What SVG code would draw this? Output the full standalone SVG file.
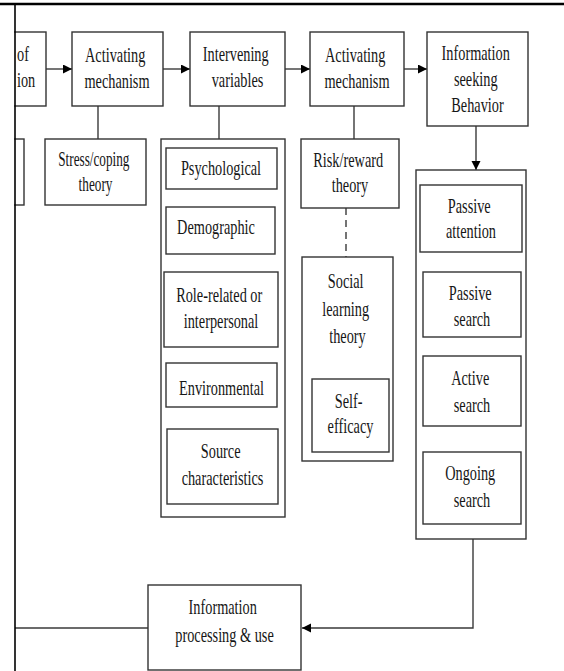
<svg xmlns="http://www.w3.org/2000/svg" width="564" height="671" viewBox="0 0 564 671">
  <style>
    .box { fill: #fff; stroke: #333; stroke-width: 1.4; }
    .wire { fill: none; stroke: #3a3a3a; stroke-width: 1.4; }
    .dash { stroke-dasharray: 7 5; }
    .lbl { font-family: "Liberation Serif", "Times New Roman", serif; font-size: 22px; fill: #161616; text-anchor: middle; }
    .frame { stroke: #000; fill: none; }
  </style>
  <defs>
    <marker id="arrow" markerUnits="userSpaceOnUse" markerWidth="10" markerHeight="10" refX="9" refY="4.5" orient="auto">
      <path d="M0,0 L9,4.5 L0,9 z" fill="#000"/>
    </marker>
  </defs>

  <rect width="564" height="671" fill="#fff"/>

  <!-- connectors -->
  <g id="connectors">
    <line class="wire" x1="46" y1="69" x2="72" y2="69" marker-end="url(#arrow)"/>
    <line class="wire" x1="163" y1="69" x2="190" y2="69" marker-end="url(#arrow)"/>
    <line class="wire" x1="285" y1="69" x2="310" y2="69" marker-end="url(#arrow)"/>
    <line class="wire" x1="404" y1="69" x2="427" y2="69" marker-end="url(#arrow)"/>
    <line class="wire" x1="476" y1="126" x2="476" y2="170" marker-end="url(#arrow)"/>
    <line class="wire" x1="98" y1="106" x2="98" y2="139"/>
    <line class="wire" x1="219" y1="106" x2="219" y2="139"/>
    <line class="wire" x1="354" y1="106" x2="354" y2="139"/>
    <line class="wire dash" x1="346" y1="208" x2="346" y2="257"/>
    <polyline class="wire" points="473,539 473,628 302,628" marker-end="url(#arrow)"/>
    <line class="wire" x1="15" y1="628" x2="148" y2="628"/>
  </g>

  <!-- boxes cut off by the left edge of the frame -->
  <g id="context-box">
    <rect class="box" x="10" y="32" width="36" height="74"/>
    <text class="lbl" transform="translate(17 0) scale(.65 1)" style="text-anchor:start">
      <tspan x="0" y="61">of</tspan>
      <tspan x="0" y="87">ion</tspan>
    </text>
  </g>
  <g id="left-theory-box">
    <rect class="box" x="10" y="139" width="14" height="66"/>
  </g>
  <rect x="0" y="20" width="14.2" height="200" fill="#fff"/>

  <!-- outer frame lines -->
  <line class="frame" x1="0" y1="4" x2="564" y2="4" stroke-width="2.6"/>
  <line class="frame" x1="15" y1="4" x2="15" y2="671" stroke-width="1.6"/>

  <g id="activating-1">
    <rect class="box" x="72" y="32" width="91" height="74"/>
    <text class="lbl" transform="translate(117 0) scale(.65 1)">
      <tspan x="0" y="62">Activating</tspan>
      <tspan x="0" y="88">mechanism</tspan>
    </text>
  </g>

  <g id="stress-coping">
    <rect class="box" x="45" y="139" width="101" height="66"/>
    <text class="lbl" transform="translate(95.5 0) scale(.63 1)" style="font-size:21px">
      <tspan x="0" y="166">Stress/coping</tspan>
      <tspan x="0" y="191">theory</tspan>
    </text>
  </g>

  <g id="intervening">
    <rect class="box" x="190" y="32" width="95" height="74"/>
    <text class="lbl" transform="translate(237.5 0) scale(.65 1)">
      <tspan x="0" y="61">Intervening</tspan>
      <tspan x="0" y="87">variables</tspan>
    </text>
  </g>

  <g id="variables-list">
    <rect class="box" x="161" y="139" width="124" height="378"/>
    <g id="psychological">
      <rect class="box" x="166" y="148" width="111" height="41"/>
      <text class="lbl" transform="translate(221 0) scale(.65 1)"><tspan x="0" y="175">Psychological</tspan></text>
    </g>
    <g id="demographic">
      <rect class="box" x="166" y="207" width="109" height="47"/>
      <text class="lbl" transform="translate(216 0) scale(.65 1)"><tspan x="0" y="234">Demographic</tspan></text>
    </g>
    <g id="role-related">
      <rect class="box" x="164" y="272" width="114" height="75"/>
      <text class="lbl" transform="translate(221 0) scale(.65 1)">
        <tspan x="0" y="302">Role-related or</tspan>
        <tspan x="0" y="328">interpersonal</tspan>
      </text>
    </g>
    <g id="environmental">
      <rect class="box" x="166" y="363" width="111" height="44"/>
      <text class="lbl" transform="translate(221.5 0) scale(.65 1)"><tspan x="0" y="395">Environmental</tspan></text>
    </g>
    <g id="source">
      <rect class="box" x="167" y="429" width="111" height="75"/>
      <text class="lbl" transform="translate(222.5 0) scale(.65 1)">
        <tspan x="0" y="458">Source</tspan>
        <tspan x="0" y="485">characteristics</tspan>
      </text>
    </g>
  </g>

  <g id="activating-2">
    <rect class="box" x="310" y="32" width="94" height="74"/>
    <text class="lbl" transform="translate(357 0) scale(.65 1)">
      <tspan x="0" y="62">Activating</tspan>
      <tspan x="0" y="88">mechanism</tspan>
    </text>
  </g>

  <g id="risk-reward">
    <rect class="box" x="301" y="139" width="98" height="69"/>
    <text class="lbl" transform="translate(350 0) scale(.65 1)">
      <tspan x="0" y="167">Risk/reward</tspan>
      <tspan x="0" y="192">theory</tspan>
    </text>
  </g>

  <g id="social-learning">
    <rect class="box" x="302" y="257" width="91" height="204"/>
    <text class="lbl" transform="translate(347.5 0) scale(.65 1)">
      <tspan x="0" y="288">Social</tspan>
      <tspan x="0" y="316">learning</tspan>
      <tspan x="0" y="343">theory</tspan>
    </text>
    <g id="self-efficacy">
      <rect class="box" x="312" y="379" width="77" height="73"/>
      <text class="lbl" transform="translate(350.5 0) scale(.65 1)">
        <tspan x="0" y="408">Self-</tspan>
        <tspan x="0" y="433">efficacy</tspan>
      </text>
    </g>
  </g>

  <g id="info-seeking">
    <rect class="box" x="427" y="32" width="101" height="94"/>
    <text class="lbl" transform="translate(477.5 0) scale(.65 1)">
      <tspan x="0" y="60">Information</tspan>
      <tspan x="0" y="86">seeking</tspan>
      <tspan x="0" y="112">Behavior</tspan>
    </text>
  </g>

  <g id="seeking-modes">
    <rect class="box" x="416" y="170" width="110" height="369"/>
    <g id="passive-attention">
      <rect class="box" x="420" y="185" width="102" height="67"/>
      <text class="lbl" transform="translate(471 0) scale(.65 1)">
        <tspan x="0" y="213">Passive</tspan>
        <tspan x="0" y="238">attention</tspan>
      </text>
    </g>
    <g id="passive-search">
      <rect class="box" x="423" y="272" width="98" height="65"/>
      <text class="lbl" transform="translate(472 0) scale(.65 1)">
        <tspan x="0" y="300">Passive</tspan>
        <tspan x="0" y="326">search</tspan>
      </text>
    </g>
    <g id="active-search">
      <rect class="box" x="423" y="356" width="98" height="70"/>
      <text class="lbl" transform="translate(472 0) scale(.65 1)">
        <tspan x="0" y="385">Active</tspan>
        <tspan x="0" y="412">search</tspan>
      </text>
    </g>
    <g id="ongoing-search">
      <rect class="box" x="423" y="452" width="98" height="72"/>
      <text class="lbl" transform="translate(472 0) scale(.65 1)">
        <tspan x="0" y="480">Ongoing</tspan>
        <tspan x="0" y="507">search</tspan>
      </text>
    </g>
  </g>

  <g id="processing">
    <rect class="box" x="148" y="585" width="153" height="85"/>
    <text class="lbl" transform="translate(224.5 0) scale(.65 1)">
      <tspan x="0" y="614">Information</tspan>
      <tspan x="0" y="642">processing &amp; use</tspan>
    </text>
  </g>
</svg>
